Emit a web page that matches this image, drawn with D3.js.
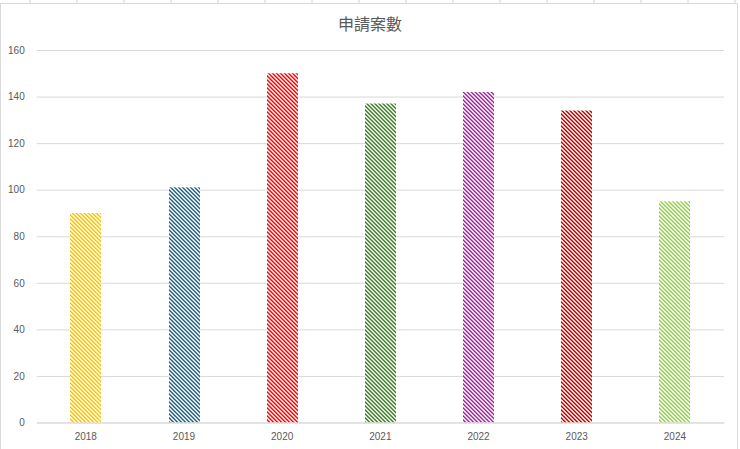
<!DOCTYPE html>
<html>
<head>
<meta charset="utf-8">
<script src="https://cdn.jsdelivr.net/npm/d3@7"></script>
<style>
  html, body { margin: 0; padding: 0; background: #fff; }
  svg { display: block; }
</style>
</head>
<body>
<div id="chart"></div>
<script>
const years = ['2018', '2019', '2020', '2021', '2022', '2023', '2024'];
const counts = [90, 101, 150, 137, 142, 134, 95];
const barColors = ['#ffc000', '#1f5f86', '#ff0000', '#3a7d22', '#a0279c', '#c00000', '#92d050'];
const yTicks = [0, 20, 40, 60, 80, 100, 120, 140, 160];
const title = '申請案數';

const W = 740, H = 449;
const MARGIN = {TOP: 50, BOTTOM: 26.5, LEFT: 36.7, RIGHT: 16};
const WIDTH = W - MARGIN.LEFT - MARGIN.RIGHT;
const HEIGHT = H - MARGIN.TOP - MARGIN.BOTTOM;

const svg = d3.select('#chart')
  .append('svg')
    .attr('width', W)
    .attr('height', H);

// spreadsheet cells peeking out around the chart object
const sheet = svg.append('g');
d3.range(30, 740, 47).forEach(x => {
  sheet.append('line')
    .attr('x1', x).attr('x2', x).attr('y1', 0).attr('y2', 3)
    .attr('stroke', '#d4d4d4');
});
svg.append('rect')
  .attr('x', 0.5).attr('y', 3.5)
  .attr('width', 737).attr('height', H)
  .attr('fill', '#fff')
  .attr('stroke', '#d9d9d9');

// pixel hatch (dark downward diagonal), one per bar colour
const defs = svg.append('defs');
barColors.forEach((c, i) => {
  const p = defs.append('pattern')
    .attr('id', 'hatch' + i)
    .attr('patternUnits', 'userSpaceOnUse')
    .attr('width', 4)
    .attr('height', 4);
  p.append('rect').attr('width', 4).attr('height', 4).attr('fill', '#fff');
  d3.range(4).forEach(r => {
    [r, (r + 1) % 4].forEach(col => {
      p.append('rect')
        .attr('x', col).attr('y', r)
        .attr('width', 1).attr('height', 1)
        .attr('fill', c)
        .attr('shape-rendering', 'crispEdges');
    });
  });
});

svg.append('text')
  .attr('x', 370)
  .attr('y', 30)
  .attr('text-anchor', 'middle')
  .attr('font-family', '"Noto Sans CJK TC", "Noto Sans CJK SC", sans-serif')
  .attr('font-size', '16px')
  .attr('fill', '#595959')
  .text(title);

const g = svg.append('g')
  .attr('transform', `translate(${MARGIN.LEFT}, ${MARGIN.TOP})`);

const x = d3.scaleBand()
  .domain(years)
  .range([0, WIDTH])
  .paddingInner(0.685)
  .paddingOuter(0.3425);

const y = d3.scaleLinear()
  .domain([0, 160])
  .range([HEIGHT, 0]);

// gridlines
const yAxis = g.append('g')
  .call(d3.axisLeft(y).tickValues(yTicks).tickSize(-WIDTH).tickPadding(12))
  .call(a => a.select('.domain').remove());
yAxis.selectAll('line').attr('stroke', '#d9d9d9');
yAxis.selectAll('text')
  .attr('fill', '#595959')
  .attr('font-family', '"Liberation Sans", Arial, sans-serif')
  .attr('font-size', '10px');

// bars
g.selectAll('rect.bar')
  .data(counts)
  .enter().append('rect')
    .attr('class', 'bar')
    .attr('x', (d, i) => Math.round(MARGIN.LEFT + x(years[i])) - MARGIN.LEFT)
    .attr('y', d => y(d))
    .attr('width', Math.round(x.bandwidth()))
    .attr('height', d => HEIGHT - y(d))
    .attr('fill', (d, i) => `url(#hatch${i})`);

const xAxis = g.append('g')
  .attr('transform', `translate(0, ${HEIGHT})`)
  .call(d3.axisBottom(x).tickSize(0).tickPadding(10));
xAxis.select('.domain').attr('stroke', '#d9d9d9');
xAxis.selectAll('text')
  .attr('fill', '#595959')
  .attr('font-family', '"Liberation Sans", Arial, sans-serif')
  .attr('font-size', '10px');
</script>
</body>
</html>
